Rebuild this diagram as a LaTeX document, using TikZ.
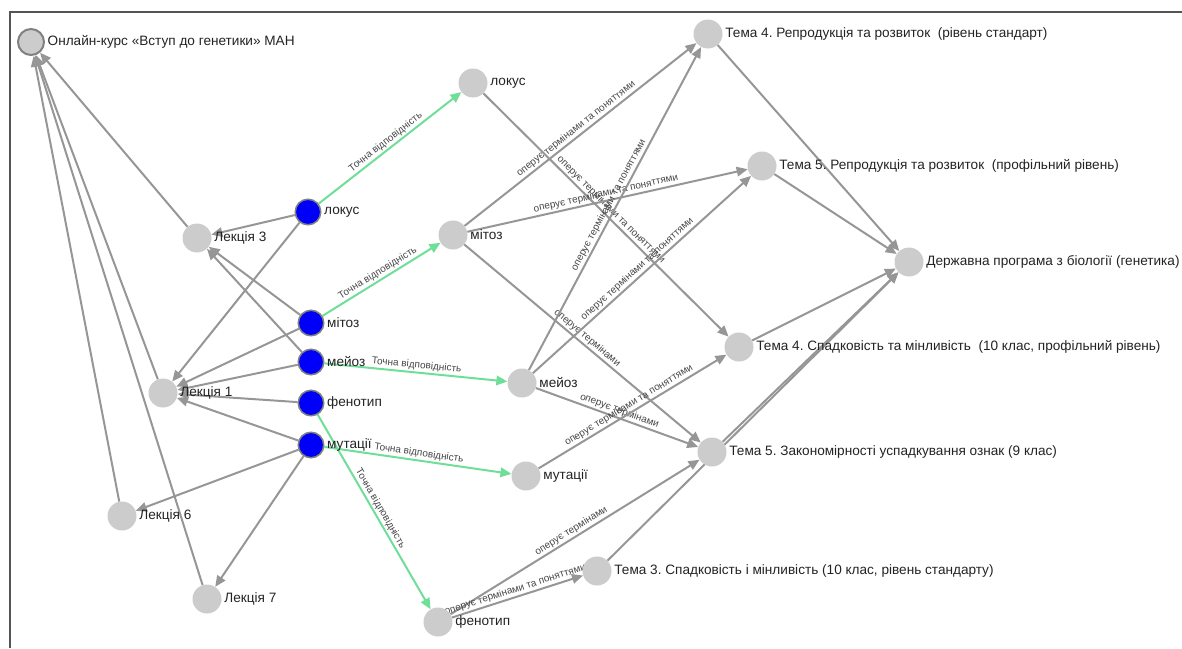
\documentclass[tikz,border=0pt]{standalone}
\usepackage{fontspec}
\setmainfont{Liberation Sans}
\usepackage{xcolor}
\usepackage{tikz}
\usetikzlibrary{arrows.meta,backgrounds}
\frenchspacing

\definecolor{nodegray}{RGB}{204,204,204}
\definecolor{rimgray}{RGB}{128,128,128}
\definecolor{edgegray}{RGB}{150,150,150}
\definecolor{termblue}{RGB}{0,0,250}
\definecolor{matchgreen}{RGB}{110,222,152}
\definecolor{textgray}{RGB}{35,35,35}
\definecolor{elblgray}{RGB}{70,70,70}
\definecolor{framegray}{RGB}{85,85,85}

\begin{document}
\begin{tikzpicture}[x=1pt, y=-1pt,
	concept/.style={circle, fill=nodegray, minimum size=29pt, inner sep=0pt},
	term/.style={circle, fill=termblue, draw=rimgray, line width=1.5pt, minimum size=25.5pt, inner sep=0pt},
	lbl/.style={font=\fontsize{13.6}{16}\selectfont, text=textgray, inner sep=2.5pt},
	link/.style={draw=edgegray, line width=2pt, -{Triangle[length=11pt,width=9.5pt]}},
	match/.style={draw=matchgreen, line width=2pt, -{Triangle[length=11pt,width=9.5pt]}},
	elbl/.style={sloped, above, font=\fontsize{10}{12}\selectfont, text=elblgray, inner sep=1.5pt}]
	\useasboundingbox (0,0) rectangle (1182,648);
	\draw[framegray, line width=2pt] (1182,12) -- (10,12) -- (10,648);

	\node[concept, draw=rimgray, line width=2pt, minimum size=26pt, label={[lbl]right:{Онлайн-курс «Вступ до генетики» МАН}}] (man) at (31,42) {};
	\node[concept, label={[lbl]right:Лекція 3}] (lec3) at (197,238) {};
	\node[concept, label={[lbl]right:Лекція 1}] (lec1) at (163,393) {};
	\node[concept, label={[lbl]right:Лекція 6}] (lec6) at (122,516) {};
	\node[concept, label={[lbl]right:Лекція 7}] (lec7) at (207,599) {};

	\node[term, label={[lbl]right:локус}] (blocus) at (308,212) {};
	\node[term, label={[lbl]right:мітоз}] (bmitoz) at (311,323) {};
	\node[term, label={[lbl]right:мейоз}] (bmeioz) at (311,362) {};
	\node[term, label={[lbl]right:фенотип}] (bfeno) at (311,403) {};
	\node[term, label={[lbl]right:мутації}] (bmut) at (311,445) {};

	\node[concept, label={[lbl]right:локус}] (locus) at (473,83) {};
	\node[concept, label={[lbl]right:мітоз}] (mitoz) at (453,235) {};
	\node[concept, label={[lbl]right:мейоз}] (meioz) at (522,383) {};
	\node[concept, label={[lbl]right:мутації}] (mut) at (526,476) {};
	\node[concept, label={[lbl]right:фенотип}] (feno) at (438,622) {};

	\node[concept, label={[lbl]right:{Тема 4. Репродукція та розвиток~ (рівень стандарт)}}] (t4r) at (708,34) {};
	\node[concept, label={[lbl]right:{Тема 5. Репродукція та розвиток~ (профільний рівень)}}] (t5r) at (762,166) {};
	\node[concept, label={[lbl]right:{Державна програма з біології (генетика)}}] (prog) at (909,262) {};
	\node[concept, label={[lbl]right:{Тема 4. Спадковість та мінливість~ (10 клас, профільний рівень)}}] (t4s) at (739,347) {};
	\node[concept, label={[lbl]right:{Тема 5. Закономірності успадкування ознак (9 клас)}}] (t5z) at (712,452) {};
	\node[concept, label={[lbl]right:{Тема 3. Спадковість і мінливість (10 клас, рівень стандарту)}}] (t3) at (597,571) {};

	\begin{pgfonlayer}{background}
		\draw[link] (lec3) -- (man);
		\draw[link] (lec1) -- (man);
		\draw[link] (lec6) -- (man);
		\draw[link] (lec7) -- (man);
		\draw[link] (blocus) -- (lec3);
		\draw[link] (blocus) -- (lec1);
		\draw[link] (bmitoz) -- (lec3);
		\draw[link] (bmitoz) -- (lec1);
		\draw[link] (bmeioz) -- (lec3);
		\draw[link] (bmeioz) -- (lec1);
		\draw[link] (bfeno) -- (lec1);
		\draw[link] (bmut) -- (lec1);
		\draw[link] (bmut) -- (lec6);
		\draw[link] (bmut) -- (lec7);

		\draw[match] (blocus) -- node[elbl]{Точна відповідність} (locus);
		\draw[match] (bmitoz) -- node[elbl]{Точна відповідність} (mitoz);
		\draw[match] (bmeioz) -- node[elbl]{Точна відповідність} (meioz);
		\draw[match] (bmut) -- node[elbl]{Точна відповідність} (mut);
		\draw[match] (bfeno) -- node[elbl]{Точна відповідність} (feno);

		\draw[link] (locus) -- node[elbl]{оперує термінами та поняттями} (t4s);
		\draw[link] (mitoz) -- node[elbl]{оперує термінами та поняттями} (t4r);
		\draw[link] (mitoz) -- node[elbl]{оперує термінами та поняттями} (t5r);
		\draw[link] (mitoz) -- node[elbl]{оперує термінами} (t5z);
		\draw[link] (meioz) -- node[elbl]{оперує термінами та поняттями} (t4r);
		\draw[link] (meioz) -- node[elbl]{оперує термінами та поняттями} (t5r);
		\draw[link] (meioz) -- node[elbl]{оперує термінами} (t5z);
		\draw[link] (mut) -- node[elbl]{оперує термінами та поняттями} (t4s);
		\draw[link] (feno) -- node[elbl]{оперує термінами} (t5z);
		\draw[link] (feno) -- node[elbl]{оперує термінами та поняттями} (t3);

		\draw[link] (t4r) -- (prog);
		\draw[link] (t5r) -- (prog);
		\draw[link] (t4s) -- (prog);
		\draw[link] (t5z) -- (prog);
		\draw[link] (t3) -- (prog);
	\end{pgfonlayer}
\end{tikzpicture}
\end{document}
